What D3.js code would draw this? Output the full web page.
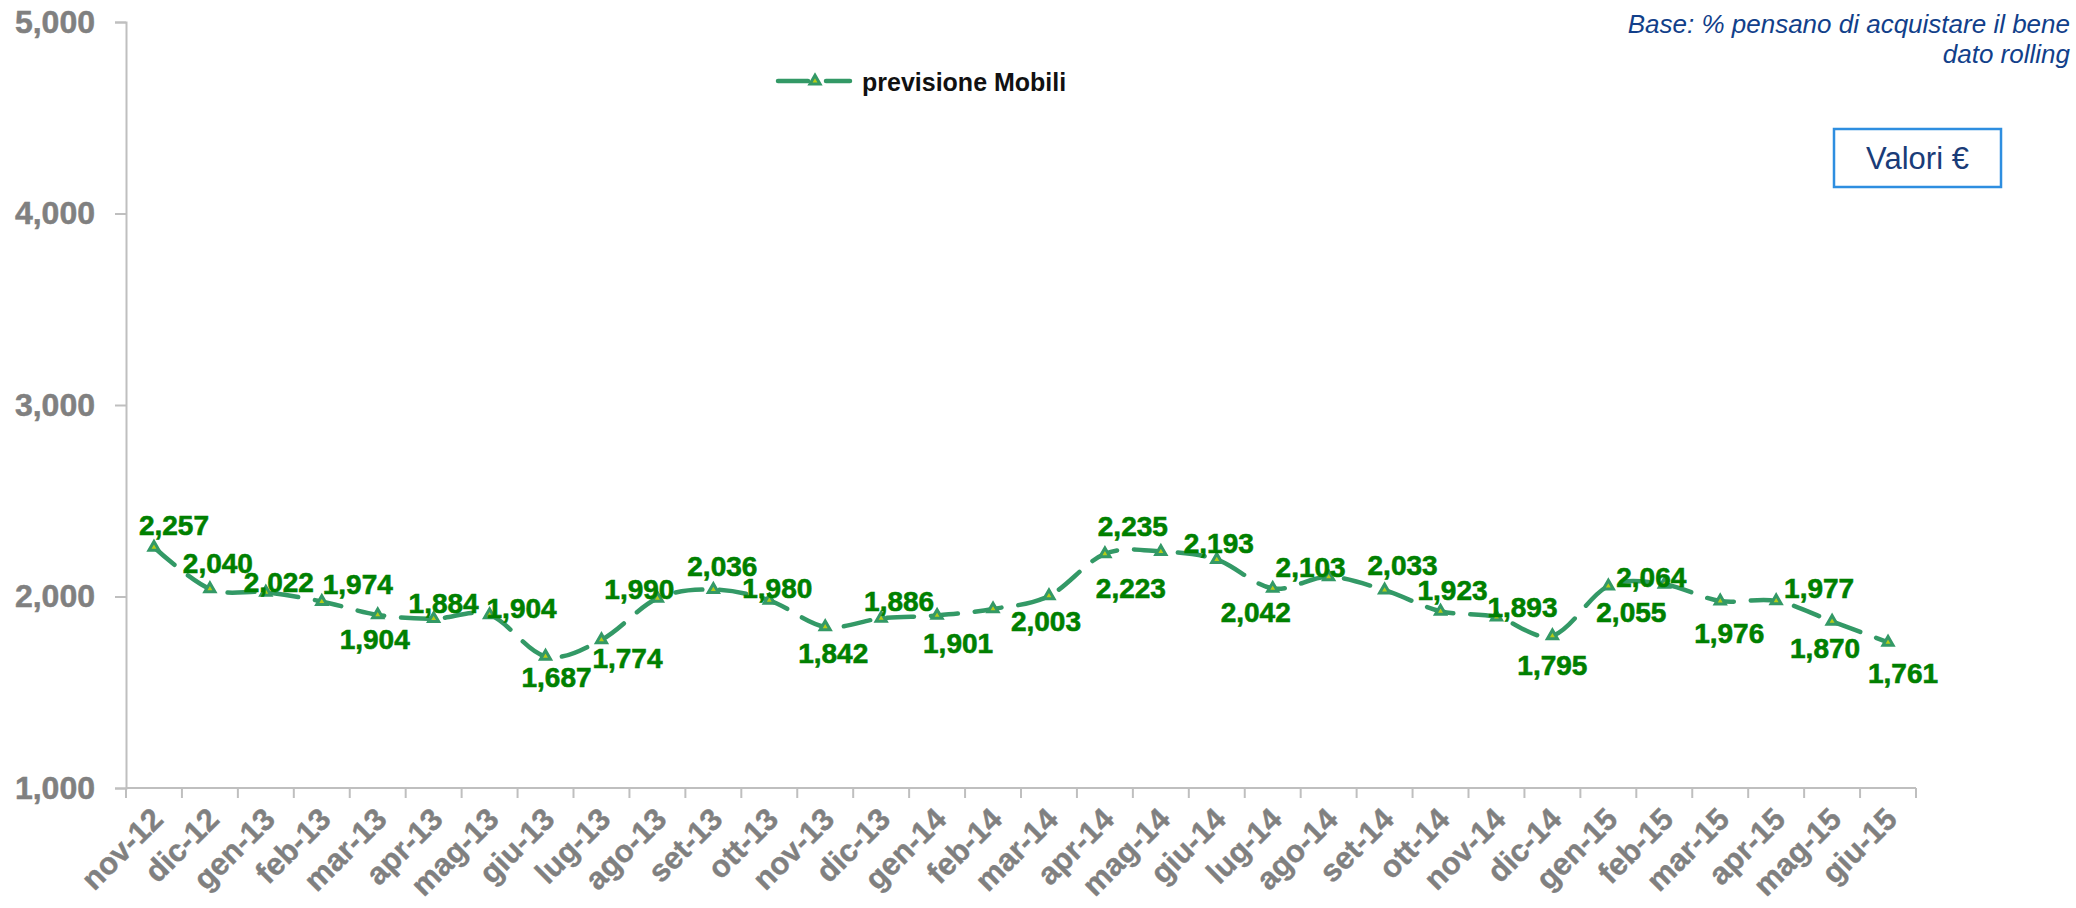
<html lang="it">
<head>
    <meta charset="UTF-8">
    <title>previsione Mobili</title>
    <style>
        body { margin: 0; background: #fff; }
        text { font-family: "Liberation Sans", Arial, sans-serif; }
    </style>
</head>
<body>
<script src="https://d3js.org/d3.v7.min.js"></script>

<script>
// values (Valori €), one per month
const months = ['nov-12', 'dic-12', 'gen-13', 'feb-13', 'mar-13', 'apr-13', 'mag-13', 'giu-13',
    'lug-13', 'ago-13', 'set-13', 'ott-13', 'nov-13', 'dic-13', 'gen-14', 'feb-14',
    'mar-14', 'apr-14', 'mag-14', 'giu-14', 'lug-14', 'ago-14', 'set-14', 'ott-14',
    'nov-14', 'dic-14', 'gen-15', 'feb-15', 'mar-15', 'apr-15', 'mag-15', 'giu-15']
const mobili = [2257, 2040, 2022, 1974, 1904, 1884, 1904, 1687,
    1774, 1990, 2036, 1980, 1842, 1886, 1901, 1935,
    2003, 2223, 2235, 2193, 2042, 2103, 2033, 1923,
    1893, 1795, 2055, 2064, 1976, 1977, 1870, 1761]
const yTicks = [1000, 2000, 3000, 4000, 5000]
const seriesName = 'previsione Mobili'

// where each data label sits relative to its point (px), null = no label shown
const labelShift = [[20, -22], [8, -26], [13, -10], [36, -18], [-3, 24], [10, -16], [32, -7], [11, 20],
    [26, 18], [-18, -9], [9, -24], [8, -12], [8, 26], [18, -17], [21, 27], null,
    [-3, 25], [26, 34], [-28, -26], [2, -17], [-17, 23], [-18, -10], [18, -25], [12, -21],
    [26, -10], [0, 29], [23, 26], [-13, -7], [9, 32], [43, -13], [-7, 27], [15, 31]]

const m = { width: 2076, height: 908, left: 126, right: 1916, top: 22, bottom: 788 }
const green = '#339966'

const svg = d3.select('body').append('svg')
    .attr('width', m.width)
    .attr('height', m.height)

const x = d3.scaleBand()
    .domain(months)
    .range([m.left, m.right])
    .padding(0)

const y = d3.scaleLinear()
    .domain([1000, 5000])
    .range([m.bottom, m.top])

const cx = d => x(d) + x.bandwidth() / 2

// y axis
const yAxis = svg.append('g')
    .attr('transform', `translate(${m.left},0)`)
    .call(d3.axisLeft(y).tickValues(yTicks).tickFormat(d3.format(',')).tickSize(11).tickSizeOuter(11).tickPadding(20))
yAxis.selectAll('path, line').attr('stroke', '#bfbfbf').attr('stroke-width', 2)
yAxis.selectAll('text')
    .attr('fill', '#808080')
    .attr('stroke', '#808080')
    .attr('stroke-width', 0.5)
    .attr('font-size', 32)
    .attr('font-weight', 'bold')
    .attr('font-family', '"Liberation Sans", Arial, sans-serif')

// x axis, ticks on the category boundaries
const xg = svg.append('g')
xg.append('line')
    .attr('x1', m.left).attr('x2', m.right)
    .attr('y1', m.bottom).attr('y2', m.bottom)
    .attr('stroke', '#bfbfbf').attr('stroke-width', 2)
xg.selectAll('.xtick')
    .data(months.map(d => x(d)).concat([m.right]))
    .enter()
    .append('line')
        .attr('x1', d => d).attr('x2', d => d)
        .attr('y1', m.bottom).attr('y2', m.bottom + 10)
        .attr('stroke', '#bfbfbf').attr('stroke-width', 2)
xg.selectAll('.xlabel')
    .data(months)
    .enter()
    .append('text')
        .attr('transform', d => `translate(${cx(d) + 11},${m.bottom + 33}) rotate(-45)`)
        .attr('text-anchor', 'end')
        .attr('fill', '#808080')
        .attr('stroke', '#808080')
        .attr('stroke-width', 0.4)
        .attr('font-size', 31)
        .attr('font-weight', 'bold')
        .text(d => d)

// series line
const pts = months.map((d, i) => ({ m: d, v: mobili[i], s: labelShift[i] }))

const line = d3.line()
    .x(d => cx(d.m))
    .y(d => y(d.v))
    .curve(d3.curveCardinal.tension(0))

svg.append('path')
    .datum(pts)
    .attr('d', line)
    .attr('fill', 'none')
    .attr('stroke', green)
    .attr('stroke-width', 4.5)
    .attr('stroke-linecap', 'round')
    .attr('stroke-dasharray', '27 17')

const tri = d3.symbol().type(d3.symbolTriangle).size(44)

svg.selectAll('.marker')
    .data(pts)
    .enter()
    .append('path')
        .attr('d', tri)
        .attr('transform', d => `translate(${cx(d.m)},${y(d.v)})`)
        .attr('fill', '#b5cc18')
        .attr('stroke', green)
        .attr('stroke-width', 3)

svg.selectAll('.vlabel')
    .data(pts.filter(d => d.s))
    .enter()
    .append('text')
        .attr('x', d => cx(d.m) + d.s[0])
        .attr('y', d => y(d.v) + d.s[1])
        .attr('dy', '0.36em')
        .attr('text-anchor', 'middle')
        .attr('fill', '#008000')
        .attr('stroke', '#008000')
        .attr('stroke-width', 0.6)
        .attr('font-size', 28)
        .attr('font-weight', 'bold')
        .text(d => d3.format(',')(d.v))

// legend
const lg = svg.append('g')
lg.append('line')
    .attr('x1', 778).attr('x2', 850)
    .attr('y1', 81).attr('y2', 81)
    .attr('stroke', green)
    .attr('stroke-width', 4.5)
    .attr('stroke-linecap', 'round')
    .attr('stroke-dasharray', '30 18')
lg.append('path')
    .attr('d', tri)
    .attr('transform', 'translate(815,81)')
    .attr('fill', '#b5cc18')
    .attr('stroke', green)
    .attr('stroke-width', 3)
lg.append('text')
    .attr('x', 862).attr('y', 91)
    .attr('font-size', 25)
    .attr('font-weight', 'bold')
    .attr('fill', '#111')
    .text(seriesName)

// notes top right
const note = svg.append('text')
    .attr('text-anchor', 'end')
    .attr('font-size', 26)
    .attr('font-style', 'italic')
    .attr('fill', '#123f8a')
note.append('tspan').attr('x', 2070).attr('y', 33).text('Base: % pensano di acquistare il bene')
note.append('tspan').attr('x', 2070).attr('y', 63).text('dato rolling')

svg.append('rect')
    .attr('x', 1834).attr('y', 129)
    .attr('width', 167).attr('height', 58)
    .attr('fill', 'none')
    .attr('stroke', '#2e8ee0')
    .attr('stroke-width', 2.5)
svg.append('text')
    .attr('x', 1917.5).attr('y', 158)
    .attr('dy', '0.36em')
    .attr('text-anchor', 'middle')
    .attr('font-size', 31)
    .attr('fill', '#1a3c78')
    .text('Valori €')
</script>
</body>
</html>
